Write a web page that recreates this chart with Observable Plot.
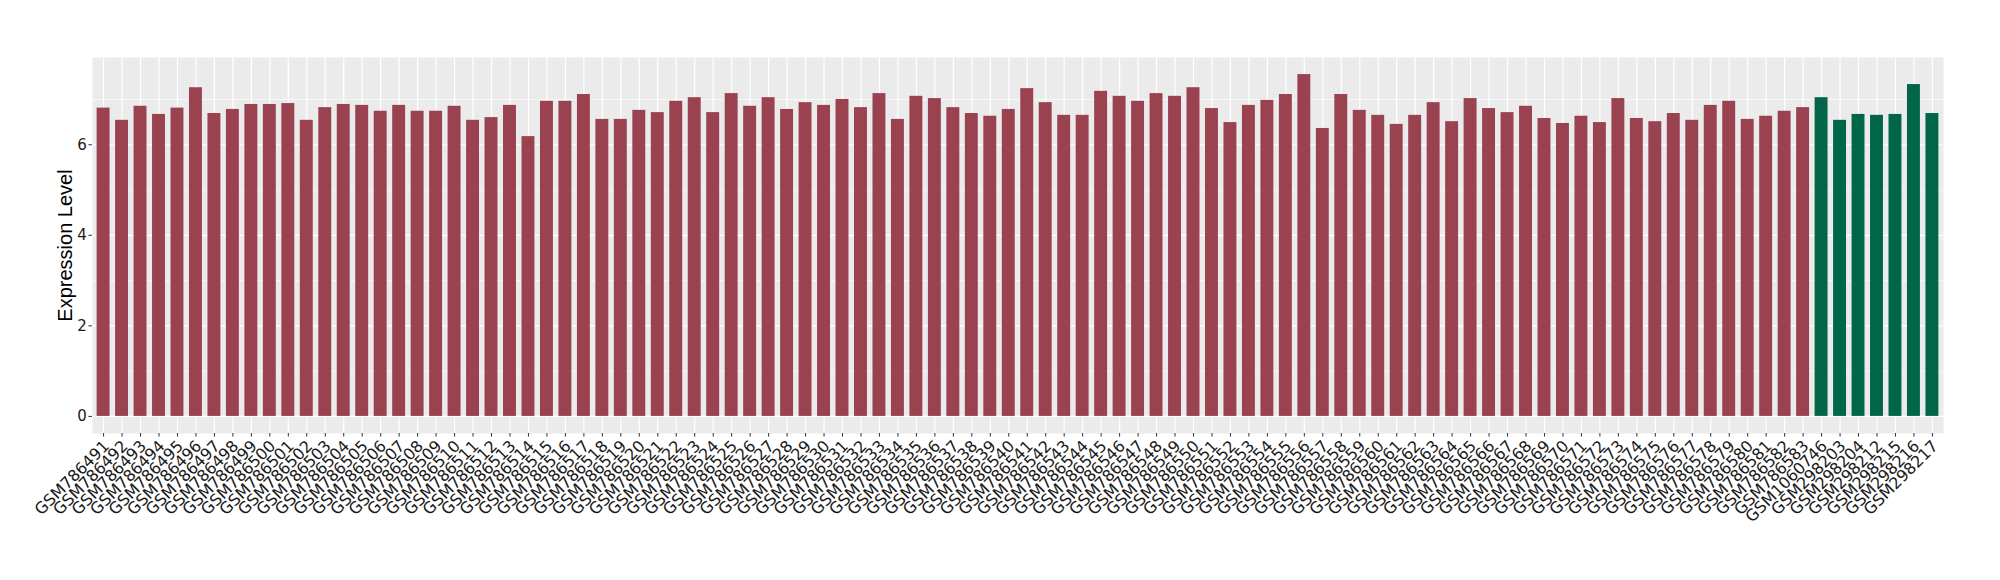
<!DOCTYPE html>
<html>
<head>
<meta charset="utf-8">
<script src="https://cdn.jsdelivr.net/npm/d3@7"></script>
<script src="https://cdn.jsdelivr.net/npm/@observablehq/plot@0.6"></script>
<style>
  html, body { margin: 0; padding: 0; background: #ffffff; }
  #chart { width: 2000px; height: 580px; }
</style>
</head>
<body>
<div id="chart"></div>
<script>
const samples = [
  "GSM786491","GSM786492","GSM786493","GSM786494","GSM786495","GSM786496","GSM786497","GSM786498","GSM786499","GSM786500",
  "GSM786501","GSM786502","GSM786503","GSM786504","GSM786505","GSM786506","GSM786507","GSM786508","GSM786509","GSM786510",
  "GSM786511","GSM786512","GSM786513","GSM786514","GSM786515","GSM786516","GSM786517","GSM786518","GSM786519","GSM786520",
  "GSM786521","GSM786522","GSM786523","GSM786524","GSM786525","GSM786526","GSM786527","GSM786528","GSM786529","GSM786530",
  "GSM786531","GSM786532","GSM786533","GSM786534","GSM786535","GSM786536","GSM786537","GSM786538","GSM786539","GSM786540",
  "GSM786541","GSM786542","GSM786543","GSM786544","GSM786545","GSM786546","GSM786547","GSM786548","GSM786549","GSM786550",
  "GSM786551","GSM786552","GSM786553","GSM786554","GSM786555","GSM786556","GSM786557","GSM786558","GSM786559","GSM786560",
  "GSM786561","GSM786562","GSM786563","GSM786564","GSM786565","GSM786566","GSM786567","GSM786568","GSM786569","GSM786570",
  "GSM786571","GSM786572","GSM786573","GSM786574","GSM786575","GSM786576","GSM786577","GSM786578","GSM786579","GSM786580",
  "GSM786581","GSM786582","GSM786583","GSM1060746","GSM298203","GSM298204","GSM298212","GSM298215","GSM298216","GSM298217"
];

const values = [
  6.81, 6.54, 6.85, 6.67, 6.81, 7.26, 6.69, 6.78, 6.89, 6.89,
  6.91, 6.54, 6.82, 6.89, 6.87, 6.74, 6.87, 6.74, 6.74, 6.85,
  6.54, 6.60, 6.87, 6.18, 6.96, 6.96, 7.11, 6.56, 6.56, 6.76,
  6.71, 6.96, 7.04, 6.71, 7.13, 6.85, 7.04, 6.78, 6.93, 6.87,
  7.00, 6.82, 7.13, 6.56, 7.07, 7.02, 6.82, 6.69, 6.63, 6.78,
  7.24, 6.93, 6.65, 6.65, 7.18, 7.07, 6.96, 7.13, 7.07, 7.26,
  6.80, 6.49, 6.87, 6.98, 7.11, 7.55, 6.36, 7.11, 6.76, 6.65,
  6.45, 6.65, 6.93, 6.51, 7.02, 6.80, 6.71, 6.85, 6.58, 6.47,
  6.63, 6.49, 7.02, 6.58, 6.51, 6.69, 6.54, 6.87, 6.96, 6.56,
  6.63, 6.74, 6.82, 7.04, 6.54, 6.67, 6.65, 6.67, 7.33, 6.69
];

// group of each sample: first 93 are group A, last 7 group B
const groups = samples.map((s, i) => (i < 93 ? "A" : "B"));
const groupNames = ["A", "B"];
const groupColors = ["#9A4250", "#006647"];

const yTicksMajor = [0, 2, 4, 6];
const yTicksMinor = [1, 3, 5, 7];
const yLabel = "Expression Level";

const data = samples.map((s, i) => ({ sample: s, value: values[i], group: groups[i] }));

const maxV = d3.max(values);
const yDomain = [-0.05 * maxV, 1.05 * maxV];

const tickFont = "'DejaVu Sans', sans-serif";

const chart = Plot.plot({
  width: 2000,
  height: 580,
  marginLeft: 92,
  marginRight: 57,
  marginTop: 57,
  marginBottom: 147,
  style: { fontFamily: "'Liberation Sans', Arial, sans-serif", background: "#ffffff", color: "#000000" },
  x: { type: "band", domain: samples, paddingInner: 0.3, paddingOuter: 0.25, align: 0.5, label: null },
  y: { domain: yDomain, label: null },
  color: { domain: groupNames, range: groupColors },
  marks: [
    Plot.frame({ fill: "#EBEBEB", stroke: "none" }),
    Plot.gridY({ ticks: yTicksMinor, stroke: "#ffffff", strokeOpacity: 1, strokeWidth: 0.6 }),
    Plot.gridY({ ticks: yTicksMajor, stroke: "#ffffff", strokeOpacity: 1, strokeWidth: 1.2 }),
    Plot.gridX({ stroke: "#ffffff", strokeOpacity: 1, strokeWidth: 1.2 }),
    Plot.barY(data, { x: "sample", y: "value", fill: "group" }),
    Plot.axisY({ ticks: yTicksMajor, tickSize: 3.6, tickPadding: 2, fontSize: 15, fontFamily: tickFont, stroke: "#333333", fill: "#1a1a1a", label: null }),
    Plot.axisX({ tickSize: 3.6, tickFormat: () => "", stroke: "#333333", label: null }),
    Plot.axisX({ tickRotate: -45, tickSize: 0, tickPadding: 3, fontSize: 16, fontFamily: tickFont, fill: "#1a1a1a", label: null, dx: 3, dy: 7 }),
    Plot.text([yLabel], { frameAnchor: "left", rotate: -90, dx: -27, fontSize: 20, fill: "#000000", textAnchor: "middle" })
  ]
});

document.getElementById("chart").appendChild(chart);
</script>
</body>
</html>
